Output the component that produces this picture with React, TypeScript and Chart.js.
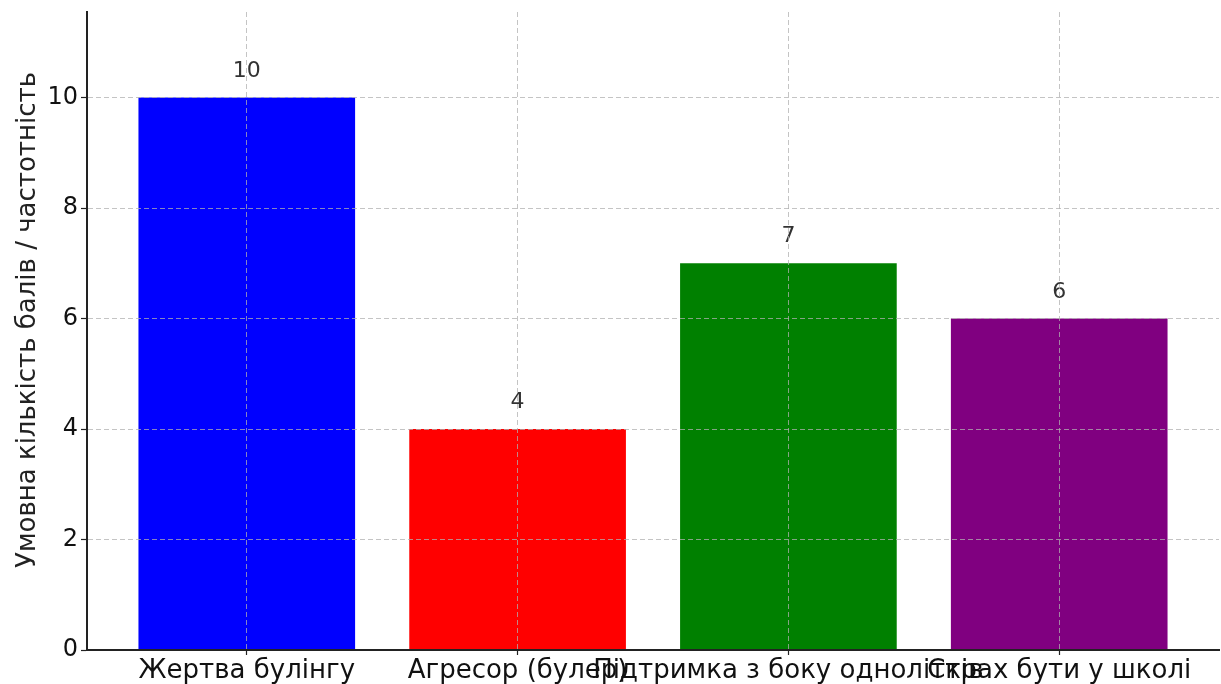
import React, { useEffect, useRef } from "react";
import { Chart, registerables } from "chart.js";

Chart.register(...registerables);

const categories = ["Жертва булінгу", "Агресор (булер)", "Підтримка з боку однолітків", "Страх бути у школі"];
const values = [10, 4, 7, 6];
const barColors = ["#0000ff", "#ff0000", "#008000", "#800080"];
const yTicks = [0, 2, 4, 6, 8, 10];
const yTitle = "Умовна кількість балів / частотність";

const FONT = "'DejaVu Sans', sans-serif";

const valueLabels = {
  id: "valueLabels",
  afterDatasetsDraw(chart: any) {
    const ctx = chart.ctx;
    const meta = chart.getDatasetMeta(0);
    ctx.save();
    ctx.font = `22px ${FONT}`;
    ctx.fillStyle = "#333333";
    ctx.textAlign = "center";
    ctx.textBaseline = "alphabetic";
    meta.data.forEach((bar: any, i: number) => {
      ctx.fillText(String(values[i]), bar.x, bar.y - 21);
    });
    ctx.restore();
  },
  afterDraw(chart: any) {
    const ctx = chart.ctx;
    ctx.save();
    ctx.translate(28, 320);
    ctx.rotate(-Math.PI / 2);
    ctx.font = `26px ${FONT}`;
    ctx.fillStyle = "#222";
    ctx.textAlign = "center";
    ctx.textBaseline = "middle";
    ctx.fillText(yTitle, 0, 0);
    ctx.restore();
  },
};

const gridCommon = {
  z: 1,
  color: "rgba(176,176,176,0.75)",
  lineWidth: 1,
  tickColor: "#222",
  tickWidth: 1.2,
  tickBorderDash: [],
  offset: false,
};

export default function App() {
  const ref = useRef<HTMLCanvasElement>(null);
  useEffect(() => {
    if (!ref.current) return;
    const chart = new Chart(ref.current, {
      type: "bar",
      data: {
        datasets: [
          {
            data: values.map((v, i) => ({ x: i, y: v })),
            backgroundColor: barColors,
            borderWidth: 0,
            barPercentage: 0.8,
            categoryPercentage: 1,
          },
        ],
      },
      options: {
        responsive: false,
        animation: false,
        layout: { padding: { top: 12, right: 2, left: 0, bottom: 0 } },
        plugins: { legend: { display: false }, tooltip: { enabled: false } },
        scales: {
          x: {
            type: "linear",
            offset: false,
            min: -0.59,
            max: 3.59,
            afterBuildTicks: (scale: any) => {
              scale.ticks = categories.map((_, i) => ({ value: i }));
            },
            afterFit: (scale: any) => {
              scale.height = 34;
            },
            ticks: {
              autoSkip: false,
              maxRotation: 0,
              minRotation: 0,
              padding: 1,
              color: "#111",
              font: { family: FONT, size: 26 },
              callback: (v: any) => categories[Math.round(Number(v))] ?? "",
            },
            grid: { ...gridCommon, tickLength: 5 },
            border: { display: true, color: "#222", width: 2, dash: [5, 3], z: 2 } as any,
          },
          y: {
            type: "linear",
            min: 0,
            max: 11.55,
            afterBuildTicks: (scale: any) => {
              scale.ticks = yTicks.map((v) => ({ value: v }));
            },
            afterFit: (scale: any) => {
              scale.width = 87;
              scale.paddingTop = 0;
            },
            ticks: {
              padding: 3,
              color: "#111",
              font: { family: FONT, size: 24 },
            },
            grid: { ...gridCommon, tickLength: 6 },
            border: { display: true, color: "#222", width: 2, dash: [5, 3], z: 2 } as any,
          },
        },
      },
      plugins: [valueLabels],
    } as any);
    return () => chart.destroy();
  }, []);
  return (
    <div style={{ position: "absolute", left: 0, top: 0, width: 1221, height: 684, background: "#fff" }}>
      <canvas ref={ref} width={1221} height={684} style={{ display: "block" }} />
    </div>
  );
}
